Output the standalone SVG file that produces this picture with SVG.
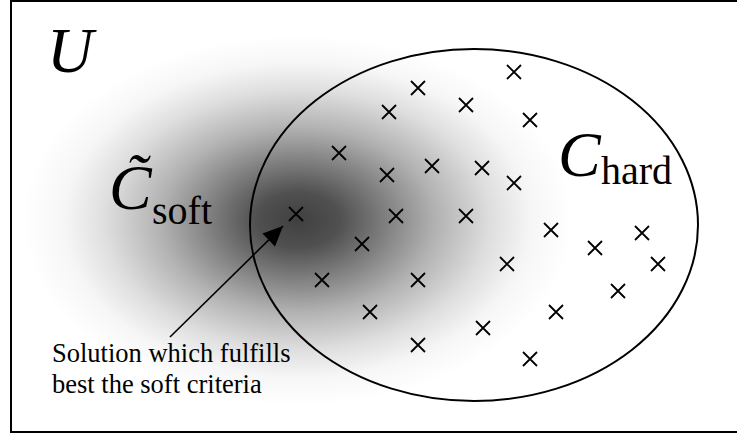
<svg xmlns="http://www.w3.org/2000/svg" xmlns:xlink="http://www.w3.org/1999/xlink" width="737" height="433" viewBox="0 0 737 433">
  <style>
    .frame { fill: none; stroke: #000; stroke-width: 2; }
    .set { fill: none; stroke: #000; stroke-width: 2; }
    .serif { font-family: "Liberation Serif", "Times New Roman", serif; fill: #000; }
    .sym { font-style: italic; font-size: 64px; }
    .sub { font-size: 40px; }
    .note { font-size: 26.5px; }
    .cross { fill: none; stroke: #000; stroke-width: 1.8; }
    .link { fill: none; stroke: #000; stroke-width: 1.6; }
  </style>
  <defs>
    <!-- soft criteria: grey density, darkest at the best solution -->
    <radialGradient id="softShade" gradientUnits="userSpaceOnUse" cx="0" cy="0" r="1"
                    gradientTransform="translate(298 220) scale(275 185)">
      <stop offset="0" stop-color="#404040"/>
      <stop offset="0.15" stop-color="#505050"/>
      <stop offset="0.3" stop-color="#7a7a7a"/>
      <stop offset="0.5" stop-color="#b2b2b2"/>
      <stop offset="0.7" stop-color="#dedede"/>
      <stop offset="0.85" stop-color="#f6f6f6"/>
      <stop offset="1" stop-color="#fff"/>
    </radialGradient>
    <path id="x" class="cross" d="M-7,-7 L7,7 M-7,7 L7,-7"/>
    <marker id="head" markerUnits="userSpaceOnUse" markerWidth="22" markerHeight="20"
            viewBox="-21 -10 22 20" refX="0" refY="0" orient="auto">
      <path d="M0,0 L-20,-9 L-20,9 Z" fill="#000"/>
    </marker>
  </defs>

  <rect width="737" height="433" fill="#fff"/>

  <!-- soft set C~soft: shaded region -->
  <g id="soft-set">
    <rect x="12" y="2" width="725" height="429" fill="url(#softShade)"/>
    <text class="serif sym" x="109" y="209">C&#x0303;</text>
    <text class="serif sub" x="152" y="224">soft</text>
  </g>

  <!-- universe U -->
  <g id="universe">
    <path class="frame" d="M740,1 H11 V432 H740"/>
    <text class="serif sym" x="47" y="72">U</text>
  </g>

  <!-- hard set C_hard -->
  <g id="hard-set">
    <ellipse class="set" cx="474" cy="225" rx="224" ry="176"/>
    <text class="serif sym" x="558" y="176">C</text>
    <text class="serif sub" x="601" y="184">hard</text>
  </g>

  <!-- candidate solutions inside C_hard -->
  <g id="solutions">
    <use xlink:href="#x" x="514" y="72"/>
    <use xlink:href="#x" x="418" y="88"/>
    <use xlink:href="#x" x="389" y="112"/>
    <use xlink:href="#x" x="466" y="105"/>
    <use xlink:href="#x" x="530" y="120"/>
    <use xlink:href="#x" x="339" y="153"/>
    <use xlink:href="#x" x="432" y="166"/>
    <use xlink:href="#x" x="482" y="168"/>
    <use xlink:href="#x" x="387" y="175"/>
    <use xlink:href="#x" x="514" y="183"/>
    <use xlink:href="#x" x="296" y="214"/>
    <use xlink:href="#x" x="396" y="216"/>
    <use xlink:href="#x" x="466" y="216"/>
    <use xlink:href="#x" x="362" y="244"/>
    <use xlink:href="#x" x="551" y="230"/>
    <use xlink:href="#x" x="642" y="233"/>
    <use xlink:href="#x" x="595" y="248"/>
    <use xlink:href="#x" x="507" y="264"/>
    <use xlink:href="#x" x="658" y="264"/>
    <use xlink:href="#x" x="322" y="280"/>
    <use xlink:href="#x" x="418" y="280"/>
    <use xlink:href="#x" x="618" y="291"/>
    <use xlink:href="#x" x="370" y="312"/>
    <use xlink:href="#x" x="556" y="312"/>
    <use xlink:href="#x" x="483" y="328"/>
    <use xlink:href="#x" x="418" y="345"/>
    <use xlink:href="#x" x="530" y="359"/>
  </g>

  <!-- annotation -->
  <g id="best-solution-note">
    <text class="serif note" x="52" y="362">Solution which fulfills</text>
    <text class="serif note" x="52" y="393">best the soft criteria</text>
  </g>

  <g id="connectors">
    <line class="link" x1="170" y1="337" x2="283" y2="226" marker-end="url(#head)"/>
  </g>
</svg>
